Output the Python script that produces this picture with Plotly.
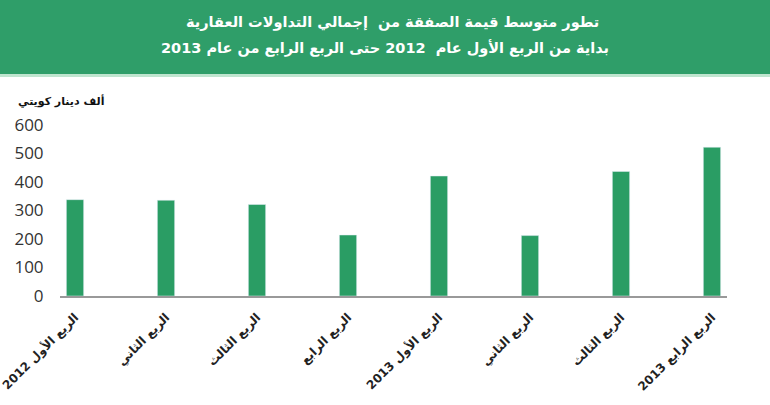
import plotly.graph_objects as go

# متوسط قيمة الصفقة (ألف دينار كويتي) لكل ربع
quarters = ["الربع الأول 2012", "الربع الثاني", "الربع الثالث", "الربع الرابع",
            "الربع الأول 2013", "الربع الثاني", "الربع الثالث", "الربع الرابع 2013"]
avg_deal = [338, 336, 321, 214, 421, 212, 437, 522]
y_ticks = [0, 100, 200, 300, 400, 500, 600]

title_1 = "تطور متوسط قيمة الصفقة من  إجمالي التداولات العقارية"
title_2 = "بداية من الربع الأول عام  2012 حتى الربع الرابع من عام 2013"
y_title = "ألف دينار كويتي"

green = "#2a9d64"
xs = list(range(len(quarters)))


def py(px_from_top):
    # pixel row -> paper y (plot area 125..296)
    return 1 + (125 - px_from_top) / 171


fig = go.Figure(go.Bar(x=xs, y=avg_deal, marker_color=green, width=0.19,
                       hoverinfo="y"))

fig.update_layout(
    width=770, height=405,
    margin=dict(l=60, r=43, t=125, b=109, autoexpand=False),
    plot_bgcolor="white", paper_bgcolor="white",
    showlegend=False,
    font=dict(family="DejaVu Sans, Noto Sans, Arial", color="#222"),
    shapes=[
        dict(type="rect", xref="paper", yref="paper", x0=-0.1, x1=1.1,
             y0=py(74), y1=py(-5), fillcolor="#2f9e69",
             line_width=0, layer="below"),
        dict(type="rect", xref="paper", yref="paper", x0=-0.1, x1=1.1,
             y0=py(77), y1=py(74), fillcolor="#bfe5cf",
             line_width=0, layer="below"),
    ],
    annotations=[
        dict(text="<b>" + title_1 + "</b>", xref="paper", yref="paper",
             x=(392 - 60) / 667, y=py(22), xanchor="center",
             yanchor="middle", showarrow=False,
             font=dict(size=14.5, color="white")),
        dict(text="<b>" + title_2 + "</b>", xref="paper", yref="paper",
             x=(385 - 60) / 667, y=py(48), xanchor="center",
             yanchor="middle", showarrow=False,
             font=dict(size=14.5, color="white")),
        dict(text="<b>" + y_title + "</b>", xref="paper", yref="paper",
             x=-44 / 667, y=py(101), xanchor="left",
             yanchor="middle", showarrow=False,
             font=dict(size=11, color="#111")),
    ],
)

fig.update_xaxes(
    tickvals=xs, ticktext=["<b>" + q + "</b>" for q in quarters],
    tickangle=-45, range=[-0.165, 7.165], automargin=False,
    ticklabeloverflow="allow",
    showline=True, linecolor="#999", linewidth=1.5,
    showgrid=False, zeroline=False, ticks="outside", ticklen=8,
    tickcolor="rgba(0,0,0,0)",
    tickfont=dict(size=12, color="#222"),
)
fig.update_yaxes(
    range=[0, 600], tickvals=y_ticks, showgrid=False, zeroline=False,
    showline=False, ticks="outside", ticklen=12, tickcolor="rgba(0,0,0,0)",
    automargin=False,
    tickfont=dict(size=17, color="#333", family="Open Sans, DejaVu Sans"),
)

fig.write_html("out.html", config={"displayModeBar": False},
               post_script="document.body.style.margin='0';")
